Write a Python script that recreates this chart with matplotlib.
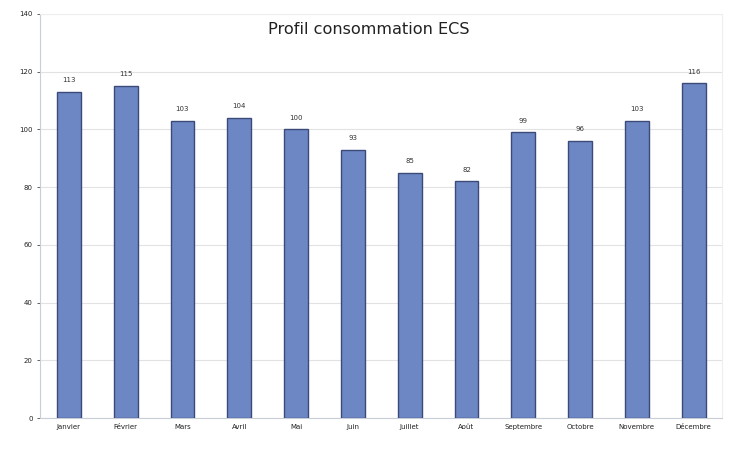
import matplotlib.pyplot as plt
import numpy as np

# Monthly domestic hot water consumption profile
mois = ['Janvier', 'Février', 'Mars', 'Avril', 'Mai', 'Juin', 'Juillet',
        'Août', 'Septembre', 'Octobre', 'Novembre', 'Décembre']
conso = [113, 115, 103, 104, 100, 93, 85, 82, 99, 96, 103, 116]
y_ticks = [0, 20, 40, 60, 80, 100, 120, 140]

fig = plt.figure(figsize=(7.36, 4.49), dpi=100)
ax = fig.add_axes([0.055, 0.069, 0.926, 0.90])

x = np.arange(len(mois))
bars = ax.bar(x, conso, width=0.42, color='#6c87c4', edgecolor='#3c4a7a',
              linewidth=1.0, zorder=3)

for xi, v in zip(x, conso):
    ax.text(xi, v + 3, str(v), ha='center', va='bottom', fontsize=5,
            color='#333333')

ax.set_ylim(0, 140)
ax.set_xlim(-0.5, len(mois) - 0.5)
ax.set_yticks(y_ticks)
ax.set_xticks(x)
ax.set_xticklabels(mois, fontsize=5, color='#222222')
ax.tick_params(axis='y', labelsize=5, colors='#222222', length=2, width=0.5)
ax.tick_params(axis='x', length=0, pad=4)
ax.grid(axis='y', color='#e2e2e2', linewidth=0.8, zorder=0)

for side in ['top', 'right']:
    ax.spines[side].set_color('#eeeeee')
for side in ['left', 'bottom']:
    ax.spines[side].set_color('#c8cdd8')
for s in ax.spines.values():
    s.set_linewidth(0.8)

ax.text(0.482, 0.962, 'Profil consommation ECS', transform=ax.transAxes,
        ha='center', va='center', fontsize=11.6, color='#222222')

fig.savefig('out.png', dpi=100)
